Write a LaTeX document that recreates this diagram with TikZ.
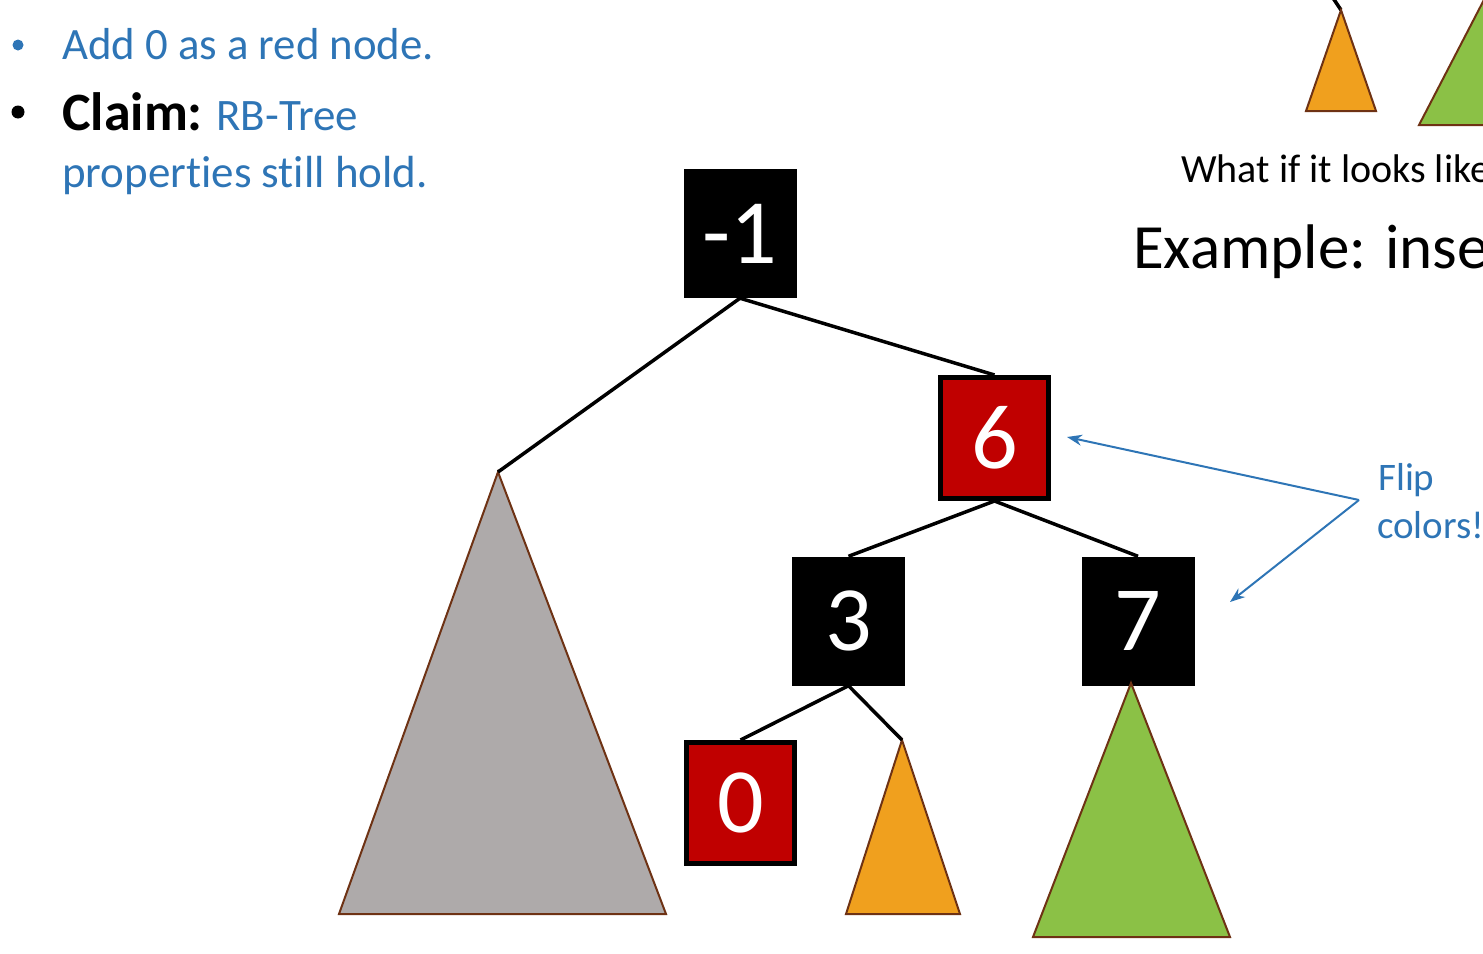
\documentclass[tikz,border=0pt]{standalone}
\usepackage{fontspec}
\setmainfont[Ligatures={NoCommon}]{Carlito}
\usetikzlibrary{arrows.meta}
\definecolor{txtblue}{RGB}{46,117,182}
\definecolor{nodered}{RGB}{192,0,0}
\definecolor{trigray}{RGB}{174,170,170}
\definecolor{triorange}{RGB}{240,160,30}
\definecolor{trigreen}{RGB}{139,193,70}
\definecolor{tribrown}{RGB}{110,50,20}
\tikzset{
  blacknode/.style={fill=black, draw=none, minimum width=113pt, minimum height=129pt, inner sep=0pt, text=white, font=\fontsize{92}{92}\selectfont},
  rednode/.style={fill=nodered, draw=black, line width=5pt, minimum width=108pt, minimum height=121pt, inner sep=0pt, text=white, font=\fontsize{92}{92}\selectfont},
  edge/.style={line width=3.5pt, black},
  subtree/.style={draw=tribrown, line width=2pt, line join=miter},
  note/.style={draw=txtblue, line width=2pt, -{Stealth[length=15pt,width=11pt]}},
  bluetext/.style={text=txtblue, anchor=base west, inner sep=0pt},
}
\begin{document}
\begin{tikzpicture}[x=1pt,y=-1pt]
\useasboundingbox (0,0) rectangle (1483,953);
\clip (0,0) rectangle (1483,953);

% bullets and text
\fill[txtblue] (18,45) circle (5.5);
\fill[black] (18,112) circle (6.5);
\node[bluetext, font=\fontsize{44.8}{44.8}\selectfont] (t1) at (62,59) {Add 0 as a red node.};
\node[anchor=base west, inner sep=0pt, font=\fontsize{45}{45}\selectfont] (t2) at (62,130) {{\fontsize{54}{54}\selectfont\bfseries Claim:} \textcolor{txtblue}{RB-Tree}};
\node[bluetext, font=\fontsize{45}{45}\selectfont] (t3) at (62,187) {properties still hold.};

% right side texts
\node[anchor=base west, inner sep=0pt, font=\fontsize{40}{40}\selectfont] (t4) at (1181,182) {What if it looks like};
\node[anchor=base west, inner sep=0pt, font=\fontsize{63}{63}\selectfont] (t5) at (1133,268) {Example: inse};
\node[bluetext, font=\fontsize{39}{39}\selectfont] (flip) at (1378,490) {Flip};
\node[bluetext, font=\fontsize{39}{39}\selectfont] (colors) at (1377,538) {colors!};

% top-right partial tree
\coordinate (toa) at (1341,10);
\coordinate (tol) at (1306,111);
\coordinate (tor) at (1376,111);
\coordinate (tel) at (1333,-2);
\draw[edge] (tel) -- (toa);
\filldraw[subtree, fill=triorange] (toa) -- (tol) -- (tor) -- cycle;
\coordinate (tga) at (1515,-60);
\coordinate (tgl) at (1419,125);
\coordinate (tgr) at (1611,125);
\filldraw[subtree, fill=trigreen] (tga) -- (tgl) -- (tgr) -- cycle;

% tree nodes
\node[blacknode] (n1) at (740,233.5) {-1};
\node[rednode] (n6) at (994.5,438) {6};
\node[blacknode] (n3) at (848.5,621) {3};
\node[blacknode] (n7) at (1138,621) {7};
\node[rednode] (n0) at (740.5,803) {0};

% subtrees
\coordinate (ga) at (498,472);
\coordinate (gl) at (339,914);
\coordinate (gr) at (666,914);
\coordinate (oa) at (902,740);
\coordinate (ol) at (846,914);
\coordinate (or) at (960,914);
\coordinate (gra) at (1131,683);
\coordinate (grl) at (1033,937);
\coordinate (grr) at (1230,937);
\filldraw[subtree, fill=trigray] (ga) -- (gl) -- (gr) -- cycle;
\filldraw[subtree, fill=triorange] (oa) -- (ol) -- (or) -- cycle;
\filldraw[subtree, fill=trigreen] (gra) -- (grl) -- (grr) -- cycle;

% edges
\draw[edge] (n1.south) -- (ga);
\draw[edge] (n1.south) -- (n6.north);
\draw[edge] (n6.south) -- (n3.north);
\draw[edge] (n6.south) -- (n7.north);
\draw[edge] (n3.south) -- (n0.north);
\draw[edge] (n3.south) -- (oa);

% annotation arrows
\coordinate (fv) at (1359,500);
\coordinate (a6) at (1067,437);
\coordinate (a7) at (1230,602);
\draw[note] (fv) -- (a6);
\draw[note] (fv) -- (a7);
\end{tikzpicture}
\end{document}
